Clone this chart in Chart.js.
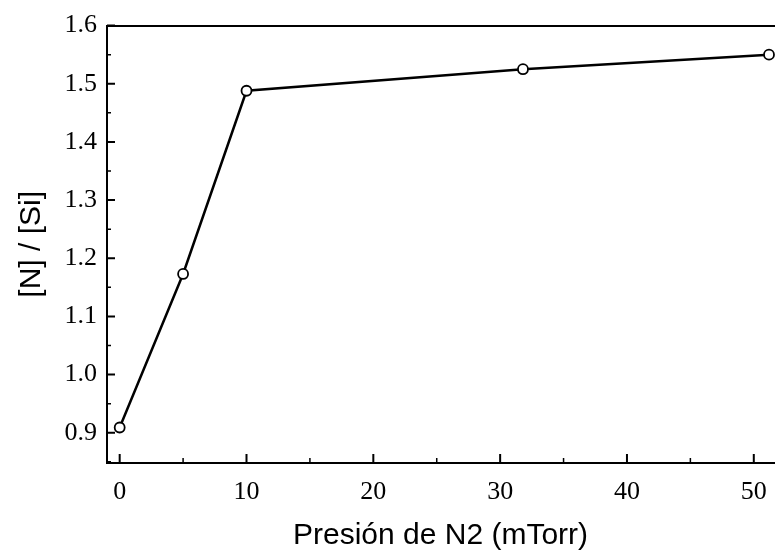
<!DOCTYPE html>
<html>
<head>
<meta charset="utf-8">
<script src="https://cdn.jsdelivr.net/npm/chart.js@4"></script>
<style>
  html, body { margin: 0; padding: 0; background: #fff; }
  #wrap { width: 781px; height: 554px; }
</style>
</head>
<body>
<div id="wrap"><canvas id="nsiChart" width="781" height="554"></canvas></div>
<script>
// N2 pressure (mTorr) vs [N]/[Si] ratio
const pressure = [0, 5, 10, 31.8, 51.2];
const ratio = [0.909, 1.173, 1.488, 1.525, 1.55];

const xTicks = [0, 10, 20, 30, 40, 50];
const xMinor = [5, 15, 25, 35, 45];
const yTicks = [0.9, 1.0, 1.1, 1.2, 1.3, 1.4, 1.5, 1.6];
const yMinor = [0.85, 0.95, 1.05, 1.15, 1.25, 1.35, 1.45, 1.55];

const xTitle = 'Presión de N2 (mTorr)';
const yTitle = '[N] / [Si]';

const serif = "'Liberation Serif', 'Times New Roman', serif";
const sans = "'Liberation Sans', Arial, sans-serif";

// inward tick marks, like the original plot
const innerTicks = {
    id: 'innerTicks',
    afterDraw(chart) {
        const ctx = chart.ctx;
        const x = chart.scales.x, y = chart.scales.y;
        const area = chart.chartArea;
        ctx.save();
        ctx.strokeStyle = '#000';
        ctx.lineWidth = 2;
        ctx.beginPath();
        yTicks.forEach(v => {
            const py = y.getPixelForValue(v);
            ctx.moveTo(area.left, py); ctx.lineTo(area.left + 8, py);
        });
        xTicks.forEach(v => {
            const px = x.getPixelForValue(v);
            ctx.moveTo(px, area.bottom); ctx.lineTo(px, area.bottom - 9);
        });
        ctx.stroke();
        ctx.lineWidth = 1.5;
        ctx.beginPath();
        yMinor.forEach(v => {
            const py = y.getPixelForValue(v);
            ctx.moveTo(area.left, py); ctx.lineTo(area.left + 4, py);
        });
        xMinor.forEach(v => {
            const px = x.getPixelForValue(v);
            ctx.moveTo(px, area.bottom); ctx.lineTo(px, area.bottom - 5);
        });
        ctx.stroke();
        ctx.restore();
    }
};

new Chart(document.getElementById('nsiChart'), {
    type: 'line',
    data: {
        datasets: [{
            data: pressure.map((p, i) => ({ x: p, y: ratio[i] })),
            borderColor: '#000',
            borderWidth: 2.5,
            pointRadius: 5,
            pointBorderWidth: 1.8,
            pointBorderColor: '#000',
            pointBackgroundColor: '#fff',
            tension: 0,
            clip: false
        }]
    },
    options: {
        responsive: false,
        animation: false,
        layout: { padding: { top: 25, right: 0, left: 0, bottom: 0 } },
        plugins: { legend: { display: false }, tooltip: { enabled: false } },
        scales: {
            x: {
                type: 'linear',
                min: -1.0,
                max: 51.6,
                afterBuildTicks: s => { s.ticks = xTicks.map(v => ({ value: v })); },
                afterFit: s => { s.height = 91; },
                grid: { display: false, drawTicks: false },
                border: { display: true, color: '#000', width: 2 },
                ticks: {
                    color: '#000',
                    padding: 14,
                    maxRotation: 0,
                    font: { family: serif, size: 26 },
                    callback: v => String(v)
                },
                title: {
                    display: true,
                    text: xTitle,
                    color: '#000',
                    font: { family: sans, size: 30 },
                    padding: { top: 0, bottom: 0 }
                }
            },
            x2: {
                type: 'linear',
                position: 'top',
                min: -1.0,
                max: 51.6,
                afterFit: s => { s.height = 0; },
                grid: { display: false, drawTicks: false },
                border: { display: true, color: '#000', width: 2 },
                ticks: { display: false }
            },
            y: {
                min: 0.848,
                max: 1.6,
                afterBuildTicks: s => { s.ticks = yTicks.map(v => ({ value: v })); },
                afterFit: s => { s.width = 107; },
                grid: { display: false, drawTicks: false },
                border: { display: true, color: '#000', width: 2 },
                ticks: {
                    color: '#000',
                    padding: 10,
                    font: { family: serif, size: 26 },
                    callback: v => v.toFixed(1)
                },
                title: {
                    display: true,
                    text: yTitle,
                    color: '#000',
                    font: { family: sans, size: 30 },
                    padding: { top: 14, bottom: 0 }
                }
            }
        }
    },
    plugins: [innerTicks]
});
</script>
</body>
</html>
